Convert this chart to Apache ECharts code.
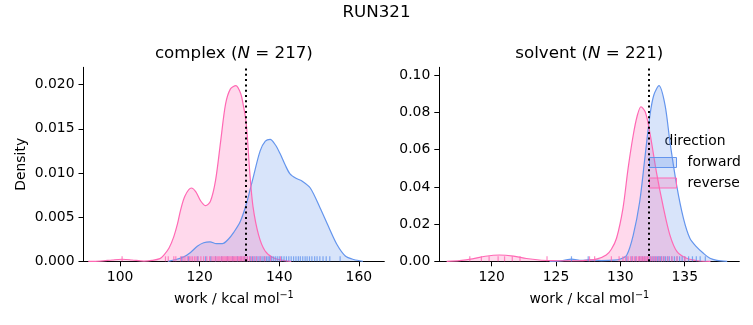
<!DOCTYPE html>
<html>
<head>
<meta charset="utf-8">
<script src="https://cdn.jsdelivr.net/npm/echarts@6/dist/echarts.min.js"></script>
<style>html,body{margin:0;padding:0;background:#fff}#c{width:753px;height:325px}</style>
</head>
<body>
<div id="c"></div>
<script>
// ---------- data ----------
const suptitle = 'RUN321';
const panelNames = ['complex', 'solvent'];
const panelN = [217, 221];
const directions = ['forward', 'reverse'];
const legendTitle = 'direction';
const xLabel = 'work / kcal mol';
const yLabel = 'Density';

const complexTicks = [100, 120, 140, 160];
const solventTicks = [120, 125, 130, 135];
const complexDensityTicks = [0, 0.005, 0.010, 0.015, 0.020];
const solventDensityTicks = [0, 0.02, 0.04, 0.06, 0.08, 0.10];

const complexEstimate = 131.5;
const solventEstimate = 132.2;

// KDE curves [work, density]
const complexForwardKde = [
  [112,0],[114,0.0002],[116,0.0005],[117.7,0.0010],[119.4,0.0017],[121,0.0021],[122.6,0.0022],
  [124.2,0.0020],[125.7,0.0020],[127.2,0.0025],[128.6,0.0033],[130.2,0.0045],[131.8,0.0066],
  [133.5,0.0096],[135.2,0.0125],[136.5,0.0136],[137.7,0.0138],[139,0.0132],[140.2,0.0122],
  [141.5,0.0109],[142.7,0.0099],[144.2,0.0094],[145.7,0.0091],[147.8,0.0083],[150.3,0.0060],
  [152.4,0.0039],[154.5,0.0019],[156.6,0.0006],[158.7,0.0002],[161,0]
];
const complexReverseKde = [
  [92,0],[95,0.00003],[98,0.00015],[100.5,0.00023],[103,0.00015],[106,0.00003],[108,0.0001],
  [110,0.0003],[111,0.0007],[112.3,0.0015],[113.5,0.0028],[114.4,0.0042],[115.2,0.0058],
  [116.3,0.0074],[117.9,0.0083],[119,0.0079],[120.3,0.0068],[121.5,0.0063],[122.7,0.0068],
  [124,0.0092],[125.3,0.0137],[126.5,0.0178],[127.7,0.0195],[129.1,0.0199],[130.3,0.0190],
  [131,0.0176],[131.6,0.0160],[132,0.0140],[132.6,0.0100],[133.4,0.0062],[134.8,0.0030],
  [136.4,0.0012],[138.5,0.0004],[141,0.0001],[143,0]
];
const solventForwardKde = [
  [124.5,0],[125.5,0.0004],[126.2,0.0012],[127,0.0005],[127.6,0.0008],[128.5,0.0004],[129.5,0.0006],
  [130,0.0012],[130.5,0.0034],[131,0.0141],[131.5,0.0320],[131.9,0.0554],[132.3,0.0787],
  [132.6,0.0894],[133,0.0944],[133.47,0.0840],[133.85,0.0643],[134.37,0.0410],[134.9,0.0231],
  [135.4,0.0124],[135.9,0.0079],[136.45,0.0043],[136.96,0.0016],[137.5,0.0005],[138.3,0]
];
const solventReverseKde = [
  [116.5,0],[117.5,0.0004],[118.5,0.0013],[119.5,0.0027],[120.6,0.0034],[121.7,0.0028],
  [122.7,0.0015],[123.7,0.0007],[124.7,0.0004],[125.7,0.0003],[126.7,0.0003],[127.5,0.0006],
  [128.2,0.0013],[128.9,0.0034],[129.3,0.0065],[129.7,0.0124],[130.2,0.0285],[130.6,0.0500],
  [131,0.0679],[131.3,0.0780],[131.6,0.0831],[131.95,0.0800],[132.3,0.0688],[132.8,0.0480],
  [133.3,0.0303],[133.85,0.0141],[134.4,0.0052],[135.15,0.0016],[136,0.0003],[137,0]
];

// rug samples (work values)
const complexForwardRug = [115.5,117.2,119.5,121.5,122.8,124.0,125.5,127.0,128.3,129.5,130.4,131.2,
  132.0,132.7,133.3,133.9,134.4,134.9,135.4,135.9,136.3,136.8,137.2,137.6,138.0,138.5,139.0,139.5,
  140.0,140.6,141.2,141.8,142.4,143.0,143.6,144.2,144.8,145.3,145.9,146.5,147.0,147.6,148.2,148.9,
  149.5,150.2,151.0,151.8,152.7,155.3];
const complexReverseRug = [100.5,111.4,112.1,113.5,114.0,115.2,115.8,116.3,116.9,117.4,117.8,118.2,
  118.7,119.1,119.6,120.3,121.0,121.8,122.5,123.1,123.6,124.0,124.4,124.8,125.1,125.5,125.8,126.1,
  126.4,126.7,127.0,127.3,127.6,127.9,128.2,128.5,128.8,129.1,129.4,129.7,130.0,130.3,130.6,130.9,
  131.2,131.6,132.0,132.5,133.0,133.6,134.3,135.2,136.4,137.8,140.3];
const solventForwardRug = [126.2,127.5,130.5,130.9,131.2,131.5,131.7,131.9,132.1,132.3,132.45,132.6,
  132.75,132.9,133.0,133.1,133.2,133.35,133.5,133.65,133.8,134.0,134.2,134.4,134.6,134.8,135.0,
  135.3,135.6,135.9,136.2,136.6];
const solventReverseRug = [118.3,119.2,119.8,120.5,121.0,121.6,122.2,124.3,127.6,128.0,129.3,129.9,
  130.2,130.4,130.6,130.8,130.95,131.1,131.25,131.4,131.5,131.6,131.7,131.8,131.9,132.0,132.1,
  132.2,132.35,132.5,132.65,132.8,133.0,133.2,133.4,133.7,134.0,134.4,135.0];

// ---------- styling ----------
const FONT = 'DejaVu Sans';
const colors = { forward: '#6495ED', reverse: '#FF69B4' };
const fills = { forward: 'rgba(100,149,237,0.25)', reverse: 'rgba(255,105,180,0.25)' };

const chart = echarts.init(document.getElementById('c'), null, { renderer: 'canvas' });

function xAxis(idx, min, max, ticks) {
  return {
    type: 'value', gridIndex: idx, min: min, max: max,
    splitLine: { show: false },
    axisLine: { show: true, onZero: false, lineStyle: { color: '#000', width: 1 } },
    axisTick: { show: true, length: 5, customValues: ticks, lineStyle: { color: '#000', width: 1 } },
    axisLabel: { customValues: ticks, margin: 9, fontSize: 13.9, color: '#000', fontFamily: FONT,
      formatter: v => String(v) },
    name: '{n|' + xLabel + '}{s|\u22121}', nameLocation: 'middle', nameGap: 29,
    nameTextStyle: { rich: {
      n: { fontSize: 13.9, fontFamily: FONT, color: '#000', verticalAlign: 'bottom' },
      s: { fontSize: 9.7, fontFamily: FONT, color: '#000', verticalAlign: 'bottom', padding: [0, 0, 6, 0] }
    } }
  };
}
function yAxis(idx, max, ticks, digits, name) {
  const a = {
    type: 'value', gridIndex: idx, min: 0, max: max,
    splitLine: { show: false },
    axisLine: { show: true, lineStyle: { color: '#000', width: 1 } },
    axisTick: { show: true, length: 5, customValues: ticks, lineStyle: { color: '#000', width: 1 } },
    axisLabel: { customValues: ticks, margin: 9, fontSize: 13.9, color: '#000', fontFamily: FONT,
      formatter: v => Number(v).toFixed(digits) }
  };
  if (name) {
    a.name = name; a.nameLocation = 'middle'; a.nameGap = 55;
    a.nameTextStyle = { fontSize: 13.9, fontFamily: FONT, color: '#000' };
  }
  return a;
}
function areaSeries(dir, data, idx) {
  return {
    type: 'line', name: dir, data: data, xAxisIndex: idx, yAxisIndex: idx,
    symbol: 'none', smooth: 0.3, silent: true, animation: false,
    lineStyle: { color: colors[dir], width: 1.2 },
    itemStyle: { color: colors[dir] },
    areaStyle: { color: fills[dir], opacity: 1 },
    z: 2
  };
}
function rugSeries(dir, vals, idx, mark) {
  const s = {
    type: 'scatter', name: dir + ' rug', data: vals.map(v => [v, 0]),
    xAxisIndex: idx, yAxisIndex: idx, symbol: 'rect', symbolSize: [1.2, 5], symbolOffset: [0, -2.5],
    itemStyle: { color: colors[dir], opacity: 0.8 }, silent: true, animation: false, z: 3
  };
  if (mark != null) {
    s.markLine = { silent: true, symbol: ['none', 'none'], label: { show: false }, animation: false,
      lineStyle: { color: '#000', width: 2, type: [2, 3.3], opacity: 1 },
      emphasis: { disabled: true },
      data: [{ xAxis: mark }] };
  }
  return s;
}

function titleText(name, n) {
  return '{t|' + name + ' (}{i|N}{t| = ' + n + ')}';
}
const titleRich = {
  t: { fontSize: 16.7, fontFamily: FONT, fill: '#000' },
  i: { fontSize: 16.7, fontFamily: FONT, fontStyle: 'italic', fill: '#000' }
};

const option = {
  backgroundColor: '#fff',
  animation: false,
  grid: [
    { left: 83.5, top: 67.3, width: 300.8, height: 194 },
    { left: 439.3, top: 67.3, width: 300, height: 194 }
  ],
  xAxis: [ xAxis(0, 90.8, 166.4, complexTicks), xAxis(1, 115.93, 139.24, solventTicks) ],
  yAxis: [ yAxis(0, 0.02197, complexDensityTicks, 3, yLabel), yAxis(1, 0.1043, solventDensityTicks, 2, null) ],
  legend: {
    data: directions.map(d => ({ name: d, icon: 'rect',
      itemStyle: { color: fills[d], borderColor: colors[d], borderWidth: 1 } })),
    orient: 'vertical', left: 649, top: 155.5, padding: 0, itemWidth: 27, itemHeight: 10, itemGap: 6.5,
    selectedMode: false,
    textStyle: { fontSize: 13.9, fontFamily: FONT, color: '#000', lineHeight: 14, padding: [0, 0, 0, 6] }
  },
  graphic: [
    { type: 'text', x: 376.5, y: 13, style: { text: suptitle, fontSize: 16.7, fontFamily: FONT, fill: '#000', align: 'center', verticalAlign: 'middle' } },
    { type: 'text', x: 233.9, y: 54, style: { text: titleText(panelNames[0], panelN[0]), rich: titleRich, align: 'center', verticalAlign: 'middle' } },
    { type: 'text', x: 589.3, y: 54, style: { text: titleText(panelNames[1], panelN[1]), rich: titleRich, align: 'center', verticalAlign: 'middle' } },
    { type: 'text', x: 695, y: 141.5, style: { text: legendTitle, fontSize: 13.9, fontFamily: FONT, fill: '#000', align: 'center', verticalAlign: 'middle' } }
  ],
  series: [
    areaSeries('forward', complexForwardKde, 0),
    areaSeries('reverse', complexReverseKde, 0),
    rugSeries('forward', complexForwardRug, 0, null),
    rugSeries('reverse', complexReverseRug, 0, complexEstimate),
    areaSeries('forward', solventForwardKde, 1),
    areaSeries('reverse', solventReverseKde, 1),
    rugSeries('forward', solventForwardRug, 1, null),
    rugSeries('reverse', solventReverseRug, 1, solventEstimate)
  ]
};
chart.setOption(option);
</script>
</body>
</html>
